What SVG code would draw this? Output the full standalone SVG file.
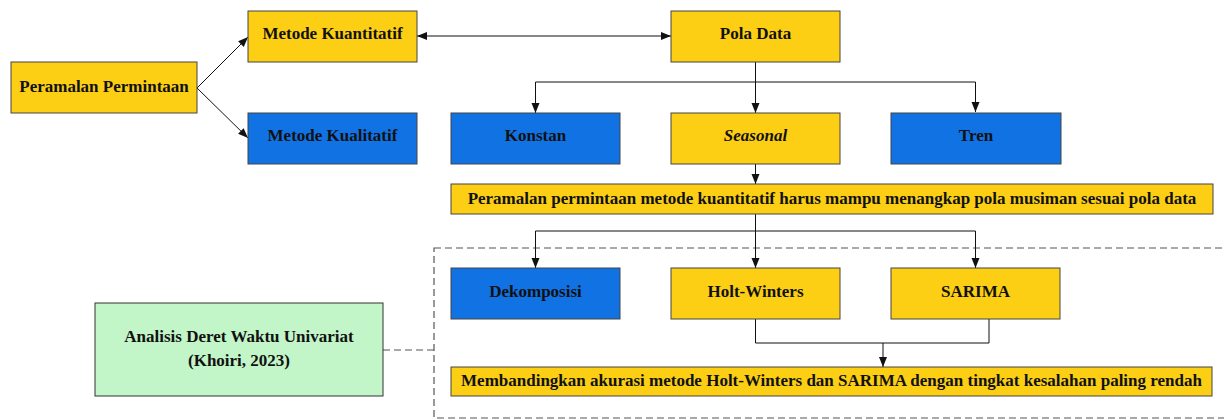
<svg xmlns="http://www.w3.org/2000/svg" width="1224" height="419" viewBox="0 0 1224 419">
<style>
.n{stroke:#444;stroke-width:1}
.y{fill:#FCCF14}
.b{fill:#1172E4}
.g{fill:#C2F5C8}
text{font-family:"Liberation Serif","Times New Roman",serif;font-weight:bold;font-size:17px;fill:#111;text-anchor:middle;dominant-baseline:central}
.c{fill:none;stroke:#111;stroke-width:1}
.d{fill:none;stroke:#555;stroke-width:1.2;stroke-dasharray:7,4}
</style>
<defs>
<marker id="ah" viewBox="0 0 10 10" refX="10" refY="5" markerWidth="10" markerHeight="10" markerUnits="userSpaceOnUse" orient="auto-start-reverse">
<path d="M0,1 L10,5 L0,9 Z" fill="#111"/>
</marker>
</defs>
<rect class="d" x="434" y="248" width="800" height="170"/>
<g id="connectors">
<path class="c" d="M197,88 L248,37" marker-end="url(#ah)"/>
<path class="c" d="M197,88 L248,138" marker-end="url(#ah)"/>
<path class="c" d="M417,36 L671,36" marker-start="url(#ah)" marker-end="url(#ah)"/>
<path class="c" d="M755.5,62 L755.5,113" marker-end="url(#ah)"/>
<path class="c" d="M535.5,82 L975.5,82"/>
<path class="c" d="M535.5,82 L535.5,113" marker-end="url(#ah)"/>
<path class="c" d="M975.5,82 L975.5,112" marker-end="url(#ah)"/>
<path class="c" d="M755.5,164 L755.5,184" marker-end="url(#ah)"/>
<path class="c" d="M755.5,214 L755.5,268" marker-end="url(#ah)"/>
<path class="c" d="M535.5,231 L975.5,231"/>
<path class="c" d="M535.5,231 L535.5,268" marker-end="url(#ah)"/>
<path class="c" d="M975.5,231 L975.5,268" marker-end="url(#ah)"/>
<path class="c" d="M755.5,319 L755.5,343 L989,343 L989,319"/>
<path class="c" d="M883,343 L883,367" marker-end="url(#ah)"/>
<path class="d" d="M383,350 L434,350"/>
</g>
<g id="peramalan"><rect class="n y" x="11" y="62" width="186" height="51"/><text x="104" y="86.5">Peramalan Permintaan</text></g>
<g id="kuantitatif"><rect class="n y" x="248" y="11" width="169" height="51"/><text x="332.5" y="33.5">Metode Kuantitatif</text></g>
<g id="kualitatif"><rect class="n b" x="248" y="113" width="169" height="51"/><text x="332.5" y="135.5">Metode Kualitatif</text></g>
<g id="poladata"><rect class="n y" x="671" y="11" width="169" height="51"/><text x="755.5" y="33.5">Pola Data</text></g>
<g id="konstan"><rect class="n b" x="451" y="113" width="169" height="51"/><text x="535.5" y="135.5">Konstan</text></g>
<g id="seasonal"><rect class="n y" x="671" y="113" width="169" height="51"/><text x="755.5" y="135.5" font-style="italic">Seasonal</text></g>
<g id="tren"><rect class="n b" x="891" y="113" width="170" height="51"/><text x="976" y="135.5">Tren</text></g>
<g id="kesimpulan-pola"><rect class="n y" x="451" y="184" width="762" height="30"/><text x="832" y="198">Peramalan permintaan metode kuantitatif harus mampu menangkap pola musiman sesuai pola data</text></g>
<g id="dekomposisi"><rect class="n b" x="451" y="268" width="169" height="51"/><text x="535.5" y="291.5">Dekomposisi</text></g>
<g id="holtwinters"><rect class="n y" x="671" y="268" width="169" height="51"/><text x="755.5" y="291.5">Holt-Winters</text></g>
<g id="sarima"><rect class="n y" x="891" y="268" width="169" height="51"/><text x="975.5" y="291.5">SARIMA</text></g>
<g id="membandingkan"><rect class="n y" x="451" y="367" width="761" height="29"/><text x="831.5" y="380.5">Membandingkan akurasi metode Holt-Winters dan SARIMA dengan tingkat kesalahan paling rendah</text></g>
<g id="analisis"><rect class="g" stroke="#333" stroke-width="1" x="95" y="303" width="288" height="93"/><text x="239" y="336">Analisis Deret Waktu Univariat</text><text x="239" y="360">(Khoiri, 2023)</text></g>
</svg>
